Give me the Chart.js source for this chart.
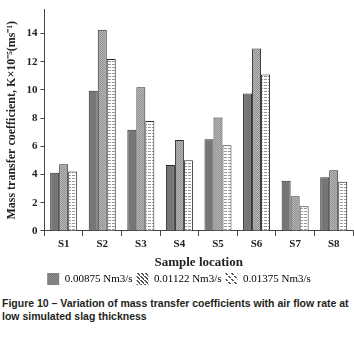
<!DOCTYPE html>
<html>
<head>
<meta charset="utf-8">
<script src="https://cdn.jsdelivr.net/npm/chart.js@4"></script>
<style>
  html, body { margin: 0; padding: 0; background: #fff; }
  #wrap { position: relative; width: 354px; height: 342px; }
  #chart { position: absolute; left: 0; top: 0; }
  #caption {
    position: absolute; left: 2px; top: 297px; width: 352px;
    font-family: "Liberation Sans", Arial, sans-serif; font-weight: bold;
    font-size: 10.5px; line-height: 13px; color: #231f20;
  }
</style>
</head>
<body>
<div id="wrap">
  <canvas id="chart" width="354" height="295"></canvas>
  <div id="caption">Figure 10 – Variation of mass transfer coefficients with air flow rate at<br>low simulated slag thickness</div>
</div>
<script>
const categories = ['S1', 'S2', 'S3', 'S4', 'S5', 'S6', 'S7', 'S8'];
const flowLow = [4.12, 9.94, 7.17, 4.67, 6.50, 9.74, 3.55, 3.80];
const flowMid = [4.72, 14.27, 10.20, 6.44, 8.04, 12.94, 2.45, 4.31];
const flowHigh = [4.21, 12.20, 7.79, 5.02, 6.07, 11.09, 1.74, 3.48];
const seriesNames = ['0.00875 Nm3/s', '0.01122 Nm3/s', '0.01375 Nm3/s'];
const yMax = 15.7;
const yStep = 2;

const serif = '"Liberation Serif", "Times New Roman", serif';

function makePattern(w, h, draw) {
    const c = document.createElement('canvas');
    c.width = w;
    c.height = h;
    const g = c.getContext('2d');
    draw(g);
    return g.createPattern(c, 'repeat');
}

const ctx = document.getElementById('chart').getContext('2d');

// bar fills
const darkFill = makePattern(2, 2, g => {
    g.fillStyle = '#7a7a7a'; g.fillRect(0, 0, 2, 2);
    g.fillStyle = '#727272'; g.fillRect(0, 0, 1, 1); g.fillRect(1, 1, 1, 1);
});
const checkFill = makePattern(2, 2, g => {
    g.fillStyle = '#b8b8b8'; g.fillRect(0, 0, 2, 2);
    g.fillStyle = '#909090'; g.fillRect(0, 0, 1, 1); g.fillRect(1, 1, 1, 1);
});
const dashFill = makePattern(4, 3, g => {
    g.fillStyle = '#ffffff'; g.fillRect(0, 0, 4, 3);
    g.fillStyle = '#9a9a9a'; g.fillRect(0, 1, 3, 1);
});

// legend symbols
const legendDark = makePattern(2, 2, g => {
    g.fillStyle = '#8a8a8a'; g.fillRect(0, 0, 2, 2);
    g.fillStyle = '#7a7a7a'; g.fillRect(0, 0, 1, 1); g.fillRect(1, 1, 1, 1);
});
const legendStripe = makePattern(4, 4, g => {
    g.fillStyle = '#ffffff'; g.fillRect(0, 0, 4, 4);
    g.fillStyle = '#555555';
    for (let i = 0; i < 4; i++) g.fillRect(i, i, 2, 1);
});
const legendSparse = makePattern(6, 6, g => {
    g.fillStyle = '#ffffff'; g.fillRect(0, 0, 6, 6);
    g.fillStyle = '#555555';
    g.fillRect(0, 0, 2, 1); g.fillRect(1, 1, 2, 1);
    g.fillRect(3, 3, 2, 1); g.fillRect(4, 4, 2, 1);
});
const legendFills = [legendDark, legendStripe, legendSparse];

new Chart(ctx, {
    type: 'bar',
    data: {
        labels: categories,
        datasets: [
            { label: seriesNames[0], data: flowLow, backgroundColor: darkFill },
            { label: seriesNames[1], data: flowMid, backgroundColor: checkFill },
            { label: seriesNames[2], data: flowHigh, backgroundColor: dashFill }
        ].map(d => Object.assign(d, { borderColor: '#2a2a2a', borderWidth: 1 }))
    },
    options: {
        responsive: false,
        animation: false,
        layout: { padding: { top: 3, right: 1, left: 5, bottom: 0 } },
        datasets: { bar: { barPercentage: 1, categoryPercentage: 0.7 } },
        plugins: {
            tooltip: { enabled: false },
            legend: {
                position: 'bottom',
                labels: {
                    boxWidth: 12, boxHeight: 12, padding: 4,
                    color: '#333',
                    font: { family: serif, size: 11 },
                    generateLabels: chart => chart.data.datasets.map((d, i) => ({
                        text: d.label,
                        fillStyle: legendFills[i],
                        strokeStyle: 'rgba(0,0,0,0)',
                        lineWidth: 0,
                        datasetIndex: i
                    }))
                }
            }
        },
        scales: {
            x: {
                border: { color: '#444', width: 1 },
                grid: { drawOnChartArea: false, drawTicks: true, tickLength: 5, color: '#444' },
                ticks: { color: '#222', padding: 2, font: { family: serif, size: 11, weight: 'bold', lineHeight: 1.1 } },
                title: {
                    display: true, text: 'Sample location', color: '#222',
                    padding: { top: 4, bottom: 0 },
                    font: { family: serif, size: 13, weight: 'bold', lineHeight: 1.0 }
                }
            },
            y: {
                min: 0, max: yMax,
                border: { color: '#444', width: 1 },
                grid: { drawOnChartArea: false, drawTicks: true, tickLength: 4, color: '#444' },
                ticks: {
                    stepSize: yStep, includeBounds: false, padding: 3, color: '#222',
                    font: { family: serif, size: 11, weight: 'bold' }
                },
                title: {
                    display: true, text: 'Mass transfer coefficient, K×10⁻⁵(ms⁻¹)', color: '#222',
                    padding: { top: 0, bottom: 4 },
                    font: { family: serif, size: 12, weight: 'bold' }
                }
            }
        }
    }
});
</script>
</body>
</html>
